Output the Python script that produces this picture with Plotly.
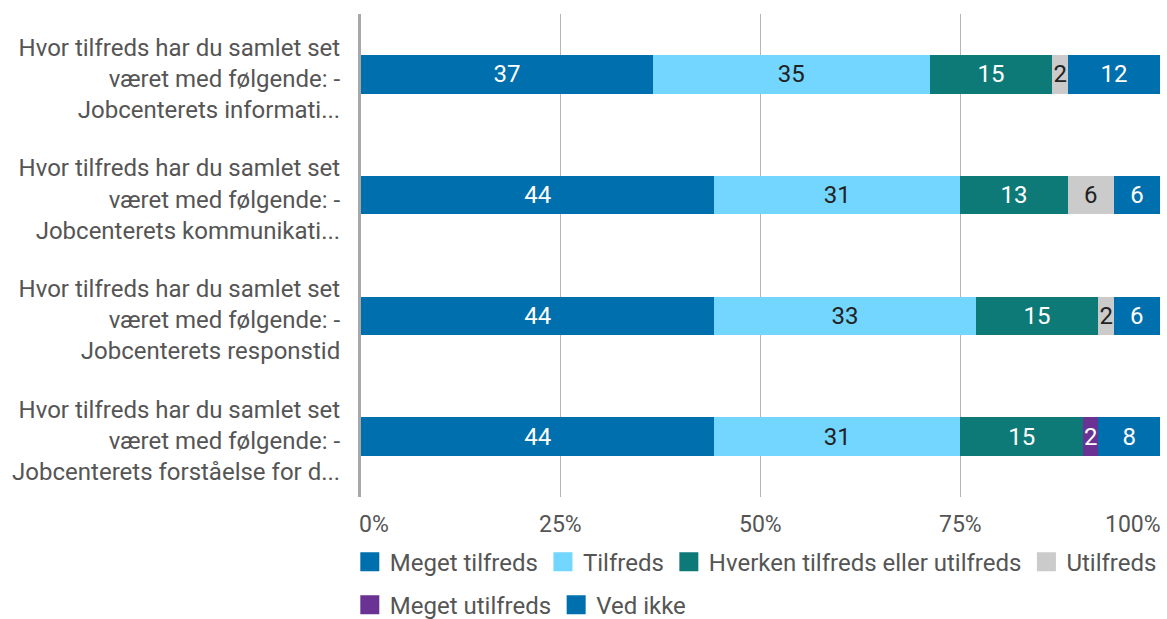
import plotly.graph_objects as go

categories = [
    "Hvor tilfreds har du samlet set<br>været med følgende: -<br>Jobcenterets informati...",
    "Hvor tilfreds har du samlet set<br>været med følgende: -<br>Jobcenterets kommunikati...",
    "Hvor tilfreds har du samlet set<br>været med følgende: -<br>Jobcenterets responstid",
    "Hvor tilfreds har du samlet set<br>været med følgende: -<br>Jobcenterets forståelse for d...",
]

series_names = ["Meget tilfreds", "Tilfreds", "Hverken tilfreds eller utilfreds",
                "Utilfreds", "Meget utilfreds", "Ved ikke"]

# percentages per category (row order as in categories)
meget_tilfreds = [36.54, 44.23, 44.23, 44.23]
tilfreds = [34.62, 30.77, 32.69, 30.77]
hverken = [15.38, 13.46, 15.38, 15.38]
utilfreds = [1.92, 5.77, 1.92, 0.0]
meget_utilfreds = [0.0, 0.0, 0.0, 1.92]
ved_ikke = [11.54, 5.77, 5.77, 7.69]

series_values = [meget_tilfreds, tilfreds, hverken, utilfreds, meget_utilfreds, ved_ikke]
colors = ["#006FAD", "#72D6FF", "#0E7A78", "#CBCBCB", "#6A3393", "#006FAD"]
text_colors = ["white", "#222222", "white", "#222222", "white", "white"]
legend_rows = ["legend", "legend", "legend", "legend", "legend2", "legend2"]

tick_vals = [0, 25, 50, 75, 100]
tick_text = ["0%", "25%", "50%", "75%", "100%"]
tick_anchor = ["left", "center", "center", "center", "right"]
tick_xshift = [-4, 0, 0, 0, 3]

FONT = "Roboto"
GREY = "#555555"

fig = go.Figure()
for name, vals, col, tcol in zip(series_names, series_values, colors, text_colors):
    fig.add_trace(go.Bar(
        y=categories, x=vals, name=name, orientation="h",
        marker=dict(color=col, line=dict(width=0)),
        text=[f"{v:.0f}" if v > 0 else "" for v in vals],
        textposition="inside", insidetextanchor="middle",
        textfont=dict(color=tcol, size=24, family=FONT),
        constraintext="none", showlegend=False,
    ))

# legend proxies with larger square swatches
for name, col, lg in zip(series_names, colors, legend_rows):
    fig.add_trace(go.Scatter(
        x=[None], y=[None], mode="markers", name=name, legend=lg,
        marker=dict(symbol="square", size=16, color=col, line=dict(color=col, width=3)),
        showlegend=True,
    ))

for v, t, a, s in zip(tick_vals, tick_text, tick_anchor, tick_xshift):
    fig.add_annotation(x=v, xref="x", y=0, yref="paper", text=t, showarrow=False,
                       xanchor=a, yanchor="top", yshift=-12, xshift=s,
                       font=dict(size=23, color=GREY, family=FONT))

legend_common = dict(orientation="h", x=-0.014, xanchor="left", yanchor="middle",
                     font=dict(size=24, color=GREY, family=FONT), traceorder="normal",
                     itemwidth=30, bgcolor="rgba(0,0,0,0)")

fig.update_layout(
    barmode="stack",
    bargap=0.68,
    width=1167, height=619,
    margin=dict(l=361, r=7, t=14, b=122, autoexpand=False),
    plot_bgcolor="white", paper_bgcolor="white",
    font=dict(family=FONT, size=20, color=GREY),
    legend=dict(y=-0.135, **legend_common),
    legend2=dict(y=-0.224, **legend_common),
)
fig.update_xaxes(range=[0, 100], tickvals=tick_vals, showticklabels=False,
                 showgrid=True, gridcolor="#B5B5B5", gridwidth=1,
                 zeroline=False, ticks="", automargin=False)
fig.update_yaxes(autorange="reversed", showline=True, linecolor="#A8A8A8", linewidth=3,
                 ticks="", ticklabelstandoff=13, ticklabelshift=-4, automargin=False,
                 tickfont=dict(size=24, color=GREY, family=FONT))

fig.write_html("out.html", config={"displayModeBar": False},
               post_script="document.body.style.margin='0';")
